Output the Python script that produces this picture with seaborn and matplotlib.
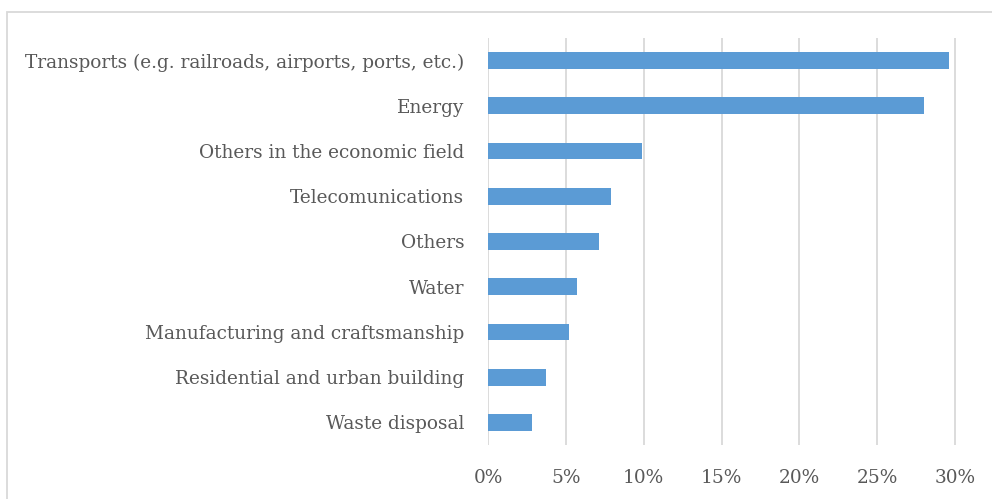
import matplotlib
matplotlib.use('Agg')
import matplotlib.pyplot as plt
import pandas as pd
import seaborn as sns
from matplotlib.patches import Rectangle
from matplotlib.ticker import FuncFormatter

# Data (share of projects, %)
sectors = [
    'Transports (e.g. railroads, airports, ports, etc.)',
    'Energy',
    'Others in the economic field',
    'Telecomunications',
    'Others',
    'Water',
    'Manufacturing and craftsmanship',
    'Residential and urban building',
    'Waste disposal',
]
shares = [29.6, 28.0, 9.9, 7.9, 7.1, 5.7, 5.2, 3.7, 2.8]
x_ticks = [0, 5, 10, 15, 20, 25, 30]

df = pd.DataFrame({'sector': sectors, 'share': shares})

sns.set_style('white')
plt.rcParams['font.family'] = ['DejaVu Serif']
text_color = '#595959'

fig = plt.figure(figsize=(9.92, 4.99), dpi=100)
ax = fig.add_axes([488 / 992, 1 - 445 / 499, (956 - 488) / 992, (445 - 38) / 499])

sns.barplot(data=df, x='share', y='sector', orient='h', color='#5B9BD5',
            saturation=1, width=0.37, linewidth=0, ax=ax, zorder=3)

ax.set_xlim(0, 30.05)
ax.set_xticks(x_ticks)
ax.xaxis.set_major_formatter(FuncFormatter(lambda v, p: f'{v:.0f}%'))
ax.grid(axis='x', color='#D9D9D9', linewidth=1.3, zorder=0)
ax.set_xlabel('')
ax.set_ylabel('')
for s in ax.spines.values():
    s.set_visible(False)
ax.tick_params(axis='y', length=0, pad=17, labelsize=13.3, labelcolor=text_color)
ax.tick_params(axis='x', length=0, pad=17, labelsize=13.3, labelcolor=text_color)

# outer chart-area border
fig.patches.append(Rectangle((7 / 992, -0.1), 1.2, 1.1 - 12 / 499,
                             transform=fig.transFigure, fill=False,
                             edgecolor='#D9D9D9', linewidth=1.3))

fig.savefig('out.png', dpi=100)
